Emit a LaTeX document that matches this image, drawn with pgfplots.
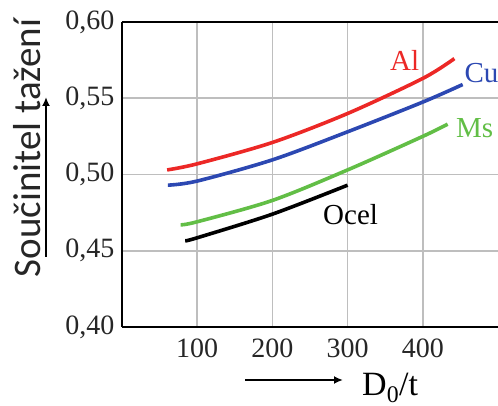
\documentclass[border=0pt]{standalone}
\usepackage{fontspec}
\setmainfont{Liberation Serif}
\newfontfamily\labelfont{Carlito}
\usepackage{pgfplots}
\pgfplotsset{compat=1.18}
\usetikzlibrary{arrows.meta}

\definecolor{alred}{RGB}{236,40,38}
\definecolor{cublue}{RGB}{44,72,178}
\definecolor{msgreen}{RGB}{98,190,70}
\definecolor{gridgray}{RGB}{190,190,190}

\begin{document}
\begin{tikzpicture}
\begin{axis}[
  scale only axis,
  width=376bp, height=305bp,
  xmin=0, xmax=500, ymin=0.40, ymax=0.60,
  axis x line*=box, axis y line*=left,
  axis line style={line width=2.4bp, black},
  xtick={100,200,300,400},
  xticklabels={100,200,300,400},
  ytick={0.40,0.45,0.50,0.55,0.60},
  yticklabels={{0,40},{0,45},{0,50},{0,55},{0,60}},
  major tick length=0pt,
  grid=major,
  major grid style={gridgray, line width=1.6bp},
  tick label style={font=\fontsize{28bp}{28bp}\selectfont, text=black!85},
  yticklabel shift=4bp,
  xticklabel shift=8bp,
  clip=false,
  every axis plot/.append style={line width=3.6bp, smooth},
]
\addplot[alred] coordinates {(60,0.503) (100,0.507) (200,0.521) (300,0.540) (400,0.563) (442,0.576)};
\addplot[cublue] coordinates {(61,0.493) (100,0.4957) (200,0.5096) (300,0.5280) (400,0.5475) (453,0.559)};
\addplot[msgreen] coordinates {(78,0.467) (100,0.469) (200,0.483) (300,0.503) (400,0.525) (433,0.533)};
\addplot[black] coordinates {(84,0.4565) (100,0.4585) (200,0.474) (300,0.493)};

\node[text=alred, font=\fontsize{29bp}{29bp}\selectfont] at (axis cs:376,0.575) {Al};
\node[text=cublue, font=\fontsize{29bp}{29bp}\selectfont] at (axis cs:478,0.5666) {Cu};
\node[text=msgreen, font=\fontsize{29bp}{29bp}\selectfont] at (axis cs:469,0.5305) {Ms};
\node[text=black, font=\fontsize{29bp}{29bp}\selectfont] at (axis cs:304,0.4734) {Ocel};
\end{axis}

% axis captions with their arrows
\node[rotate=90, font=\labelfont\fontsize{39bp}{39bp}\selectfont, text=black!85] at (-95bp,179bp) {Součinitel tažení};
\draw[line width=2.2bp, -{Latex[length=9bp,width=8bp]}] (-76bp,70bp) -- (-76bp,230bp);
\draw[line width=2.2bp, -{Latex[length=9bp,width=8bp]}] (123bp,-53bp) -- (221bp,-53bp);
\node[anchor=base west, inner sep=0pt, font=\fontsize{34bp}{34bp}\selectfont] at (240bp,-68bp) {D\textsubscript{0}/t};

\pgfresetboundingbox
\path[use as bounding box] (-122bp,-79bp) rectangle (376bp,327bp);
\end{tikzpicture}
\end{document}
